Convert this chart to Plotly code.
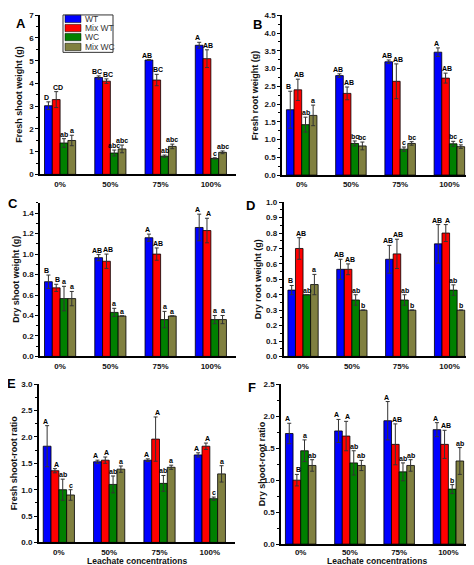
import plotly.graph_objects as go

W, H = 474, 565
FONT = "Arial, Liberation Sans, sans-serif"

categories = ["0%", "50%", "75%", "100%"]
series_names = ["WT", "Mix WT", "WC", "Mix WC"]
series_colors = ["#0000FF", "#FF0000", "#008000", "#808040"]

# Panel A: fresh shoot weight (g)
fsw_mean = [[3.02, 4.26, 5.03, 5.68], [3.29, 4.10, 4.15, 5.09],
            [1.38, 0.94, 0.80, 0.70], [1.49, 1.12, 1.23, 0.97]]
fsw_err = [[0.17, 0.07, 0.02, 0.13], [0.35, 0.10, 0.25, 0.39],
           [0.19, 0.13, 0.05, 0.03], [0.23, 0.17, 0.10, 0.06]]
fsw_letters = [["D", "BC", "AB", "A"], ["CD", "BC", "BC", "AB"],
               ["ab", "abc", "ab", "c"], ["a", "abc", "abc", "abc"]]

# Panel B: fresh root weight (g)
frw_mean = [[1.84, 2.80, 3.19, 3.46], [2.40, 2.30, 2.64, 2.73],
            [1.42, 0.89, 0.73, 0.88], [1.68, 0.82, 0.89, 0.80]]
frw_err = [[0.52, 0.05, 0.05, 0.12], [0.30, 0.18, 0.49, 0.14],
           [0.21, 0.07, 0.06, 0.07], [0.29, 0.11, 0.05, 0.05]]
frw_letters = [["B", "AB", "AB", "A"], ["AB", "AB", "AB", "AB"],
               ["ab", "bc", "c", "bc"], ["a", "bc", "bc", "c"]]

# Panel C: dry shoot weight (g)
dsw_mean = [[0.73, 0.965, 1.16, 1.26], [0.67, 0.93, 1.00, 1.23],
            [0.565, 0.43, 0.36, 0.36], [0.565, 0.395, 0.395, 0.36]]
dsw_err = [[0.065, 0.03, 0.035, 0.13], [0.035, 0.07, 0.06, 0.12],
           [0.12, 0.04, 0.08, 0.04], [0.07, 0.0, 0.0, 0.04]]
dsw_letters = [["B", "AB", "A", "A"], ["B", "AB", "AB", "A"],
               ["a", "a", "a", "a"], ["a", "a", "a", "a"]]

# Panel D: dry root weight (g)
drw_mean = [[0.43, 0.565, 0.63, 0.73], [0.70, 0.565, 0.665, 0.80],
            [0.40, 0.366, 0.366, 0.43], [0.466, 0.30, 0.30, 0.30]]
drw_err = [[0.03, 0.065, 0.09, 0.125], [0.07, 0.035, 0.095, 0.055],
           [0.0, 0.034, 0.034, 0.034], [0.066, 0.0, 0.0, 0.0]]
drw_letters = [["B", "AB", "AB", "AB"], ["AB", "AB", "AB", "A"],
               ["ab", "ab", "ab", "ab"], ["a", "b", "b", "b"]]

# Panel E: fresh shoot-root ratio
fsr_mean = [[1.825, 1.53, 1.56, 1.66], [1.36, 1.56, 1.96, 1.825],
            [1.00, 1.10, 1.12, 0.83], [0.90, 1.39, 1.425, 1.30]]
fsr_err = [[0.39, 0.03, 0.025, 0.04], [0.04, 0.06, 0.42, 0.06],
           [0.20, 0.16, 0.15, 0.03], [0.10, 0.06, 0.04, 0.155]]
fsr_letters = [["A", "A", "A", "A"], ["A", "A", "A", "A"],
               ["ab", "ab", "ab", "c"], ["c", "a", "a", "a"]]

# Panel F: dry shoot-root ratio
dsr_mean = [[1.73, 1.77, 1.93, 1.79], [1.00, 1.69, 1.56, 1.56],
            [1.46, 1.27, 1.13, 0.86], [1.23, 1.23, 1.23, 1.30]]
dsr_err = [[0.16, 0.18, 0.30, 0.11], [0.09, 0.23, 0.32, 0.22],
           [0.17, 0.19, 0.14, 0.07], [0.09, 0.08, 0.09, 0.21]]
dsr_letters = [["A", "A", "A", "A"], ["B", "A", "AB", "AB"],
               ["a", "ab", "ab", "b"], ["ab", "ab", "ab", "ab"]]

x_title = "Leachate concentrations"

panels = [
    dict(mean=fsw_mean, err=fsw_err, let=fsw_letters, title="Fresh shoot weight (g)",
         yr=[0, 7], dt=1, minor=0.5, fmt="d", xp=[32, 228], yp=[3.3, 165],
         lab="A", labpos=(13, 12), tx=11, xt=None),
    dict(mean=frw_mean, err=frw_err, let=frw_letters, title="Fresh root weight (g)",
         yr=[0, 4.5], dt=0.5, minor=0.25, fmt=".1f", xp=[274, 466], yp=[3.3, 165.7],
         lab="B", labpos=(249, 13), tx=247, xt=None),
    dict(mean=dsw_mean, err=dsw_err, let=dsw_letters, title="Dry shoot weight (g)",
         yr=[0, 1.5], dt=0.2, minor=0.1, fmt=".1f", xp=[32, 228], yp=[194, 350],
         lab="C", labpos=(5, 195), tx=8, xt=None),
    dict(mean=drw_mean, err=drw_err, let=drw_letters, title="Dry root weight (g)",
         yr=[0, 1.0], dt=0.1, minor=0.05, fmt=".1f", xp=[275.5, 466], yp=[193.3, 350],
         lab="D", labpos=(242, 197), tx=250, xt=None),
    dict(mean=fsr_mean, err=fsr_err, let=fsr_letters, title="Fresh shoot-root ratio",
         yr=[0, 3.0], dt=0.5, minor=0.25, fmt=".1f", xp=[30.7, 227], yp=[378.3, 539],
         lab="E", labpos=(3, 378), tx=6, xt=557.5),
    dict(mean=dsr_mean, err=dsr_err, let=dsr_letters, title="Dry shoot-root ratio",
         yr=[0, 2.5], dt=0.5, minor=0.25, fmt=".1f", xp=[273, 465], yp=[378.3, 540.7],
         lab="F", labpos=(244, 382), tx=254, xt=558.2),
]

GROUP_W = 0.62
BAR_W = GROUP_W / 4
XR = [-0.4, 3.5]
LETTER_XSHIFT = [-1.5, 1.5, 0, 0]

fig = go.Figure()
annotations = []
shapes = []
layout = {}

def px(x):
    return x / W

def py(y):
    return 1 - y / H

for k, p in enumerate(panels):
    n = "" if k == 0 else str(k + 1)
    xa, ya = "x" + n, "y" + n
    for j in range(4):
        off = -GROUP_W / 2 + j * BAR_W
        fig.add_trace(go.Bar(
            x=list(range(4)), y=p["mean"][j], width=BAR_W, offset=off,
            marker=dict(color=series_colors[j], line=dict(color="#000000", width=0.8)),
            error_y=dict(type="data", array=p["err"][j], visible=True,
                         color="#333333", thickness=1, width=2),
            name=series_names[j], showlegend=False, xaxis=xa, yaxis=ya,
        ))
        for i in range(4):
            annotations.append(dict(
                x=i + off + BAR_W / 2, y=p["mean"][j][i] + p["err"][j][i],
                xref=xa, yref=ya, text=p["let"][j][i], showarrow=False,
                yanchor="bottom", yshift=-1, xshift=LETTER_XSHIFT[j],
                font=dict(family=FONT, size=7, color="#000000", weight="bold")))
    layout["xaxis" + n] = dict(
        domain=[px(p["xp"][0]), px(p["xp"][1])], anchor=ya, range=XR,
        tickmode="array", tickvals=list(range(4)), ticktext=categories,
        showline=True, linecolor="#000000", linewidth=1.5, ticks="",
        ticklabelstandoff=1 if k < 5 else 0,
        showgrid=False, zeroline=False, fixedrange=True,
        tickfont=dict(family=FONT, size=8, color="#111111", weight="bold"))
    layout["yaxis" + n] = dict(
        domain=[py(p["yp"][1]), py(p["yp"][0])], anchor=xa, range=p["yr"],
        dtick=p["dt"], tick0=0, tickformat=p["fmt"],
        showline=True, linecolor="#000000", linewidth=1.5,
        ticks="outside", ticklen=3, tickwidth=1, tickcolor="#000000",
        minor=dict(ticks="outside", ticklen=2, dtick=p["minor"], tickcolor="#000000"),
        showgrid=False, zeroline=False,
        tickfont=dict(family=FONT, size=8, color="#111111", weight="bold"))
    # y title
    annotations.append(dict(
        x=px(p["tx"]), y=py((p["yp"][0] + p["yp"][1]) / 2), xref="paper", yref="paper",
        text=p["title"], textangle=-90, showarrow=False, xanchor="center", yanchor="middle",
        font=dict(family=FONT, size=9, color="#111111", weight="bold")))
    # panel letter
    annotations.append(dict(
        x=px(p["labpos"][0]), y=py(p["labpos"][1]), xref="paper", yref="paper",
        text=p["lab"], showarrow=False, xanchor="center", yanchor="middle",
        font=dict(family=FONT, size=13, color="#000000", weight="bold")))
    if p["xt"] is not None:
        annotations.append(dict(
            x=px((p["xp"][0] + p["xp"][1]) / 2), y=py(p["xt"]), xref="paper", yref="paper",
            text=x_title, showarrow=False, xanchor="center", yanchor="middle",
            font=dict(family=FONT, size=8.5, color="#111111", weight="bold")))

# manual legend (panel A)
shapes.append(dict(type="rect", xref="paper", yref="paper",
                   x0=px(55), x1=px(105), y0=py(41), y1=py(3),
                   line=dict(color="#333333", width=1), fillcolor="#FFFFFF"))
row_y = [7, 16.3, 25.5, 35.5]
for j in range(4):
    shapes.append(dict(type="rect", xref="paper", yref="paper",
                       x0=px(57), x1=px(73), y0=py(row_y[j] + 3.7), y1=py(row_y[j] - 3.7),
                       line=dict(color="#000000", width=0.5), fillcolor=series_colors[j]))
    annotations.append(dict(
        x=px(75), y=py(row_y[j]), xref="paper", yref="paper", text=series_names[j],
        showarrow=False, xanchor="left", yanchor="middle",
        font=dict(family=FONT, size=8.5, color="#333333")))

fig.update_layout(
    width=W, height=H, margin=dict(l=0, r=0, t=0, b=0),
    paper_bgcolor="#FFFFFF", plot_bgcolor="#FFFFFF",
    barmode="overlay", annotations=annotations, shapes=shapes,
    showlegend=False, **layout)

fig.write_html("out.html")
